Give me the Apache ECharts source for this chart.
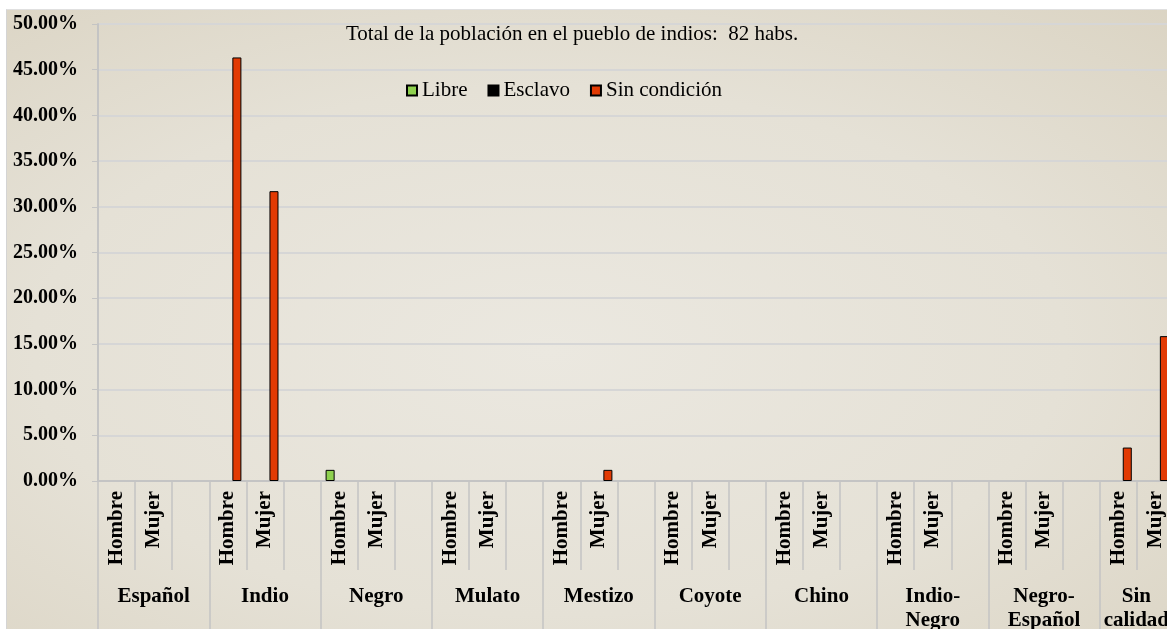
<!DOCTYPE html>
<html>
<head>
<meta charset="utf-8">
<script src="https://cdn.jsdelivr.net/npm/echarts@6.0.0/dist/echarts.min.js"></script>
<style>
  html, body { margin: 0; padding: 0; background: #ffffff; overflow: hidden; }
  /* el grafico original queda cortado a la derecha: el contenedor es mas ancho que la ventana */
  #chart {
    position: absolute;
    left: 6px;
    top: 9px;
    width: 1206px;
    height: 620px;
    border-left: 1px solid #d4d4d4;
    border-top: 1px solid #e0e0e0;
    box-sizing: border-box;
    background: radial-gradient(ellipse at 45% 55%, #ebe8e0 0%, #e5e1d6 55%, #dad3c2 100%);
  }
</style>
</head>
<body>
<div id="chart"></div>
<script>
// grupos y subcategorias del eje X
const groups = ['Español', 'Indio', 'Negro', 'Mulato', 'Mestizo', 'Coyote', 'Chino', 'Indio-\nNegro', 'Negro-\nEspañol', 'Sin\ncalidad'];
const subLabels = ['Hombre', 'Mujer', ''];
const categories = groups.flatMap(() => subLabels);

// porcentajes por subcategoria (30 posiciones: Hombre, Mujer, vacio)
const libre = [
  0, 0, 0,  0, 0, 0,  0.0122, 0, 0,  0, 0, 0,  0, 0, 0,
  0, 0, 0,  0, 0, 0,  0, 0, 0,  0, 0, 0,  0, 0, 0
];
const esclavo = [
  0, 0, 0,  0, 0, 0,  0, 0, 0,  0, 0, 0,  0, 0, 0,
  0, 0, 0,  0, 0, 0,  0, 0, 0,  0, 0, 0,  0, 0, 0
];
const sinCondicion = [
  0, 0, 0,  0.4634, 0.3171, 0,  0, 0, 0,  0, 0, 0,  0, 0.0122, 0,
  0, 0, 0,  0, 0, 0,  0, 0, 0,  0, 0, 0,  0.0366, 0.1585, 0
];

const serif = '"Liberation Serif", "Times New Roman", serif';
const gridGray = '#d6d6d6';
const axisGray = '#c4c4c4';

// los ceros no se dibujan
const hideZero = (arr) => arr.map((v) => (v === 0 ? '-' : v));

// la ultima etiqueta de grupo se corre a la izquierda para que quepa (como en Excel)
const groupData = groups.map((g, i) =>
  i === groups.length - 1 ? { value: g, textStyle: { padding: [0, 38, 0, 0] } } : g
);

const makeSeries = (name, data, color) => ({
  name,
  type: 'bar',
  data: hideZero(data),
  barGap: '0%',
  barCategoryGap: '27%',
  itemStyle: { color, borderColor: '#000', borderWidth: 1 },
});

const chart = echarts.init(document.getElementById('chart'));
chart.setOption({
  animation: false,
  title: {
    text: 'Total de la población en el pueblo de indios:  82 habs.',
    left: 334,
    top: 9,
    textStyle: { fontFamily: serif, fontSize: 21, fontWeight: 'normal', color: '#000' },
  },
  legend: {
    left: 394,
    top: 65,
    itemWidth: 10,
    itemHeight: 10,
    itemGap: 20,
    icon: 'rect',
    textStyle: { fontFamily: serif, fontSize: 21, color: '#000' },
  },
  grid: { left: 91, top: 14, right: 1, bottom: 148, containLabel: false, outerBoundsMode: 'none' },
  xAxis: [
    {
      type: 'category',
      data: categories,
      axisLine: { lineStyle: { color: axisGray, width: 2 } },
      axisTick: { show: true, interval: 0, length: 89, lineStyle: { color: axisGray, width: 1.5 } },
      axisLabel: {
        interval: 0,
        rotate: 90,
        margin: 10,
        fontFamily: serif,
        fontSize: 21,
        fontWeight: 'bold',
        color: '#000',
      },
    },
    {
      type: 'category',
      data: groupData,
      position: 'bottom',
      axisLine: { show: false },
      axisTick: { show: true, interval: 0, length: 150, lineStyle: { color: axisGray, width: 1.5 } },
      axisLabel: {
        interval: 0,
        margin: 104,
        fontFamily: serif,
        fontSize: 21,
        fontWeight: 'bold',
        lineHeight: 24,
        color: '#000',
      },
    },
  ],
  yAxis: {
    type: 'value',
    min: 0,
    max: 0.5,
    interval: 0.05,
    axisLine: { show: true, lineStyle: { color: axisGray, width: 2 } },
    axisTick: { show: true, length: 6, lineStyle: { color: axisGray } },
    splitLine: { lineStyle: { color: gridGray, width: 2 } },
    axisLabel: {
      margin: 20,
      fontFamily: serif,
      fontSize: 20,
      fontWeight: 'bold',
      color: '#000',
      formatter: (v) => (v * 100).toFixed(2) + '%',
    },
  },
  series: [
    makeSeries('Libre', libre, '#8fd14f'),
    makeSeries('Esclavo', esclavo, '#000000'),
    makeSeries('Sin condición', sinCondicion, '#e23a03'),
  ],
});
</script>
</body>
</html>
